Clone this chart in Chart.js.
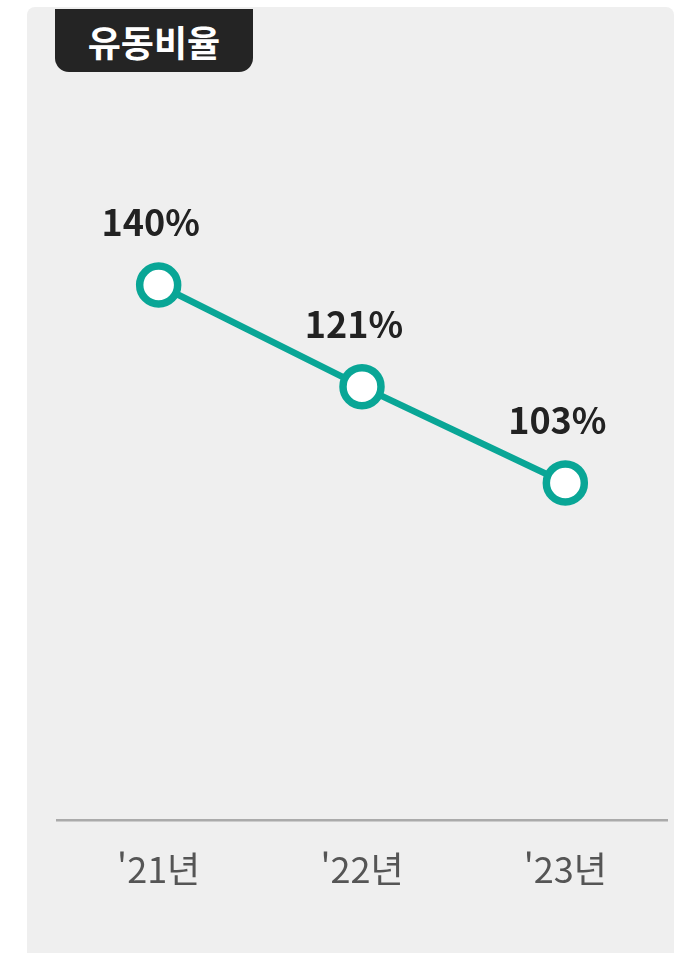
<!DOCTYPE html>
<html lang="ko">
<head>
<meta charset="utf-8">
<script src="https://cdn.jsdelivr.net/npm/chart.js@4"></script>
<style>
  html, body { margin: 0; padding: 0; background: #fff; }
  #wrap { position: relative; width: 686px; height: 953px; overflow: hidden; }
  #panel {
    position: absolute; left: 27px; top: 7px; width: 647px; height: 960px;
    background: #efefef; border-radius: 8px 8px 0 0;
  }
  #tag {
    position: absolute; left: 55px; top: 9px; width: 198px; height: 63px;
    background: #242424; color: #fff; border-radius: 0 0 14px 14px;
    font: bold 36px "Noto Sans CJK KR", sans-serif;
    display: flex; align-items: center; justify-content: center;
  }
  canvas { position: absolute; left: 0; top: 0; }
</style>
</head>
<body>
<div id="wrap">
  <div id="panel"></div>
  <div id="tag">유동비율</div>
  <canvas id="ratioChart" width="686" height="953"></canvas>
</div>
<script>
"use strict";

// Data
const years = ["'21년", "'22년", "'23년"];
const ratios = [140, 121, 103];

// value labels above each point
const valueLabels = {
  id: "valueLabels",
  afterDatasetsDraw(chart) {
    const ctx = chart.ctx;
    const meta = chart.getDatasetMeta(0);
    ctx.save();
    ctx.font = "bold 36px 'Noto Sans CJK KR', sans-serif";
    ctx.fillStyle = "#222";
    ctx.textAlign = "center";
    ctx.textBaseline = "alphabetic";
    meta.data.forEach((pt, i) => {
      ctx.fillText(ratios[i] + "%", pt.x - 8, pt.y - 49);
    });
    ctx.restore();
  }
};

const renderChart = () => {
  const ctx = document.getElementById("ratioChart").getContext("2d");
  new Chart(ctx, {
    type: "line",
    data: {
      labels: years,
      datasets: [
        {
          data: ratios,
          borderColor: "#09a696",
          borderWidth: 6.5,
          pointRadius: 19,
          pointHoverRadius: 19,
          pointBorderWidth: 7.5,
          pointBackgroundColor: "#fff",
          pointBorderColor: "#09a696",
          tension: 0
        }
      ]
    },
    options: {
      responsive: false,
      animation: false,
      layout: { autoPadding: false, padding: { left: 57, right: 19, top: 178, bottom: 0 } },
      plugins: { legend: { display: false }, tooltip: { enabled: false } },
      scales: {
        x: {
          offset: true,
          grid: { display: false, drawTicks: false },
          border: { display: true, color: "#aaa", width: 2.5 },
          ticks: {
            padding: 28,
            color: "#555",
            font: { family: "'Noto Sans CJK KR', sans-serif", size: 36 }
          },
          afterFit: (scale) => { scale.height = 133; }
        },
        y: {
          display: false,
          min: 40,
          max: 160
        }
      }
    },
    plugins: [valueLabels]
  });
};

document.addEventListener("DOMContentLoaded", renderChart);
</script>
</body>
</html>
